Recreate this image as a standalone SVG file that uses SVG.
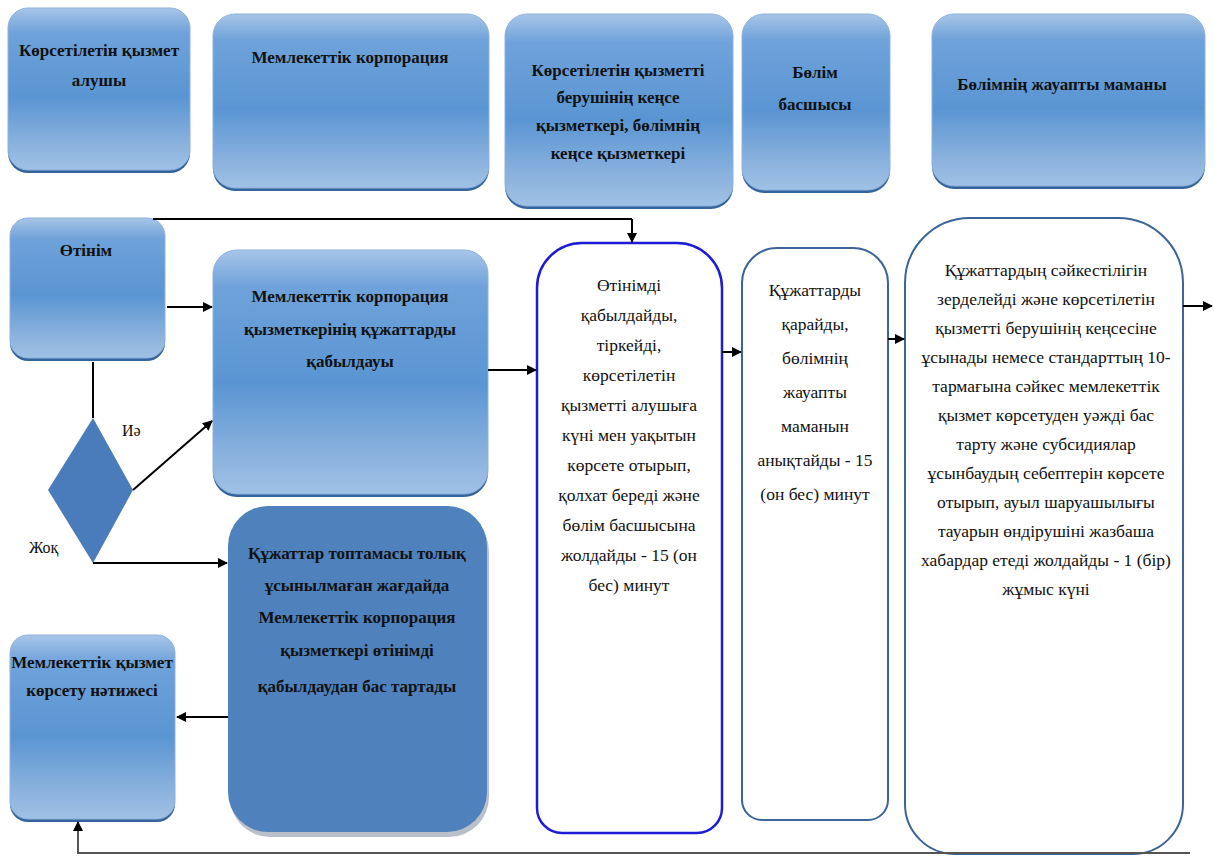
<svg xmlns="http://www.w3.org/2000/svg" width="1214" height="856" viewBox="0 0 1214 856">
<defs>
<linearGradient id="gBlue" x1="0" y1="0" x2="0" y2="1">
<stop offset="0" stop-color="#a8c5e8"/>
<stop offset="0.15" stop-color="#6fa2da"/>
<stop offset="0.55" stop-color="#5a95d3"/>
<stop offset="0.85" stop-color="#8cb3de"/>
<stop offset="1" stop-color="#a0c1e5"/>
</linearGradient>
<marker id="arr" viewBox="0 0 10 10" refX="9" refY="5" markerWidth="10" markerHeight="10" markerUnits="userSpaceOnUse" orient="auto">
<path d="M0,0 L10,5 L0,10 z" fill="#000"/>
</marker>
<style>
.hdr{fill:url(#gBlue);stroke:#8eb1dc;stroke-width:1}
.shd{fill:#35649c}
.dark{fill:#4f81bd}
.dshd{fill:#b9c0ca}
text{font-family:'Liberation Serif','Times New Roman','DejaVu Serif',serif}
.b{font-weight:bold;font-size:17px;fill:#111;text-anchor:middle}
.t{font-size:17.5px;fill:#111;text-anchor:middle}
.lbl{font-size:16px;fill:#111}
.ln{stroke:#000;stroke-width:2;fill:none}
.lnm{stroke:#000;stroke-width:2;fill:none;marker-end:url(#arr)}
.box3{fill:#fff;stroke:#1c1cd6;stroke-width:2.5}
.box4{fill:#fff;stroke:#3d6499;stroke-width:2}
</style>
</defs>
<rect width="1214" height="856" fill="#fff"/>
<g font-family="'Liberation Serif','Times New Roman','DejaVu Serif',serif">
<g id="h1">
<rect class="shd" x="8" y="11" width="182" height="162" rx="20"/>
<rect class="hdr" x="8" y="8" width="182" height="162" rx="20"/>
<text class="b" x="99" y="56">Көрсетілетін қызмет</text>
<text class="b" x="99" y="86">алушы</text>
</g>
<g id="h2">
<rect class="shd" x="213" y="17" width="276" height="174" rx="22"/>
<rect class="hdr" x="213" y="14" width="276" height="174" rx="22"/>
<text class="b" x="350" y="63">Мемлекеттік корпорация</text>
</g>
<g id="h3">
<rect class="shd" x="505" y="17" width="228" height="192" rx="22"/>
<rect class="hdr" x="505" y="14" width="228" height="192" rx="22"/>
<text class="b" x="618" y="76">Көрсетілетін қызметті</text>
<text class="b" x="618" y="103">берушінің кеңсе</text>
<text class="b" x="618" y="131">қызметкері, бөлімнің</text>
<text class="b" x="618" y="159">кеңсе қызметкері</text>
</g>
<g id="h4">
<rect class="shd" x="742" y="17" width="148" height="176" rx="22"/>
<rect class="hdr" x="742" y="14" width="148" height="176" rx="22"/>
<text class="b" x="815" y="78">Бөлім</text>
<text class="b" x="815" y="110">басшысы</text>
</g>
<g id="h5">
<rect class="shd" x="932" y="17" width="273" height="172" rx="22"/>
<rect class="hdr" x="932" y="14" width="273" height="172" rx="22"/>
<text class="b" x="1062" y="90">Бөлімнің жауапты маманы</text>
</g>

<g id="n-otinim">
<rect class="shd" x="10" y="221" width="155" height="140" rx="18"/>
<rect class="hdr" x="10" y="218" width="155" height="140" rx="18"/>
<text class="b" x="86" y="256">Өтінім</text>
</g>
<g id="n-accept">
<rect class="shd" x="213" y="253" width="275" height="244" rx="24"/>
<rect class="hdr" x="213" y="250" width="275" height="244" rx="24"/>
<text class="b" x="350" y="302">Мемлекеттік корпорация</text>
<text class="b" x="350" y="335">қызметкерінің құжаттарды</text>
<text class="b" x="350" y="367">қабылдауы</text>
</g>
<g id="n-decision">
<polygon points="93,418 133,490 93,563 48,490" fill="#4a7bba"/>
</g>
<g id="n-reject">
<rect class="dshd" x="230" y="511" width="259" height="326" rx="40"/>
<rect class="dark" x="228" y="506" width="259" height="326" rx="40"/>
<text class="b" x="357" y="559">Құжаттар топтамасы толық</text>
<text class="b" x="357" y="591">ұсынылмаған жағдайда</text>
<text class="b" x="357" y="623">Мемлекеттік корпорация</text>
<text class="b" x="357" y="656">қызметкері өтінімді</text>
<text class="b" x="357" y="692">қабылдаудан бас тартады</text>
</g>
<g id="n-result">
<rect class="shd" x="10" y="638" width="165" height="184" rx="18"/>
<rect class="hdr" x="10" y="635" width="165" height="184" rx="18"/>
<text class="b" x="92" y="668">Мемлекеттік қызмет</text>
<text class="b" x="92" y="696">көрсету нәтижесі</text>
</g>

<g id="n-register">
<path class="box3" d="M582,243 H677 A45,45 0 0 1 722,288 V808 A25,25 0 0 1 697,833 H562 A25,25 0 0 1 537,808 V288 A45,45 0 0 1 582,243 Z"/>
<text class="t" x="629" y="291">Өтінімді</text>
<text class="t" x="629" y="321">қабылдайды,</text>
<text class="t" x="629" y="351">тіркейді,</text>
<text class="t" x="629" y="381">көрсетілетін</text>
<text class="t" x="629" y="411">қызметті  алушыға</text>
<text class="t" x="629" y="441">күні мен уақытын</text>
<text class="t" x="629" y="471">көрсете отырып,</text>
<text class="t" x="629" y="501">қолхат береді және</text>
<text class="t" x="629" y="531">бөлім басшысына</text>
<text class="t" x="629" y="561">жолдайды - 15 (он</text>
<text class="t" x="629" y="591">бес) минут</text>
</g>
<g id="n-review">
<path class="box4" d="M777,248 H853 A35,35 0 0 1 888,283 V800 A20,20 0 0 1 868,820 H762 A20,20 0 0 1 742,800 V283 A35,35 0 0 1 777,248 Z"/>
<text class="t" x="815" y="296">Құжаттарды</text>
<text class="t" x="815" y="330">қарайды,</text>
<text class="t" x="815" y="364">бөлімнің</text>
<text class="t" x="815" y="398">жауапты</text>
<text class="t" x="815" y="432">маманын</text>
<text class="t" x="815" y="466">анықтайды - 15</text>
<text class="t" x="815" y="500">(он бес) минут</text>
</g>
<g id="n-check">
<path class="box4" d="M970,218 H1118 A65,65 0 0 1 1183,283 V804 A50,50 0 0 1 1133,854 H955 A50,50 0 0 1 905,804 V283 A65,65 0 0 1 970,218 Z"/>
<text class="t" x="1046" y="276">Құжаттардың сәйкестілігін</text>
<text class="t" x="1046" y="305">зерделейді және көрсетілетін</text>
<text class="t" x="1046" y="334">қызметті берушінің кеңсесіне</text>
<text class="t" x="1046" y="363">ұсынады немесе стандарттың 10-</text>
<text class="t" x="1046" y="392">тармағына сәйкес мемлекеттік</text>
<text class="t" x="1046" y="421">қызмет көрсетуден уәжді бас</text>
<text class="t" x="1046" y="450">тарту және субсидиялар</text>
<text class="t" x="1046" y="479">ұсынбаудың себептерін көрсете</text>
<text class="t" x="1046" y="508">отырып, ауыл шаруашылығы</text>
<text class="t" x="1046" y="537">тауарын өндірушіні жазбаша</text>
<text class="t" x="1046" y="566">хабардар етеді жолдайды - 1 (бір)</text>
<text class="t" x="1046" y="595">жұмыс күні</text>
</g>

<g id="labels">
<text class="lbl" x="122" y="436">Иә</text>
<text class="lbl" x="29" y="553">Жоқ</text>
</g>
</g>

<g id="connectors">
<path class="ln" d="M153,219 H632"/>
<path class="lnm" d="M632,219 V242"/>
<path class="lnm" d="M167,307 H212"/>
<path class="ln" d="M93,362 V418"/>
<path class="lnm" d="M133,490 L212,421"/>
<path class="lnm" d="M93,563 H227"/>
<path class="lnm" d="M488,370 H536"/>
<path class="lnm" d="M722,352 H741"/>
<path class="lnm" d="M888,339 H904"/>
<path class="lnm" d="M1183,306 H1212"/>
<path class="lnm" d="M228,717 H177"/>
<path d="M1190,853 H78 V822" fill="none" stroke="#555" stroke-width="2" marker-end="url(#arr)"/>
</g>
</svg>
